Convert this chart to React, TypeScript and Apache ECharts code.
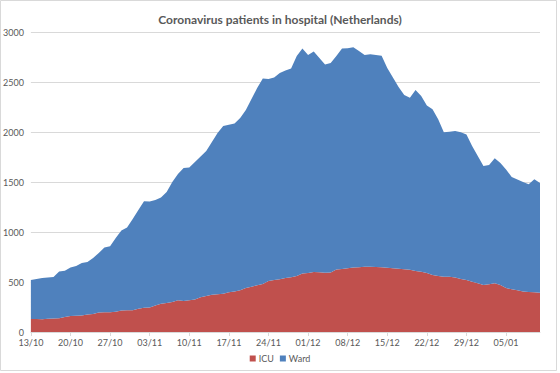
import React, { useEffect, useRef } from "react";
import * as echarts from "echarts";

const startDate = "2020-10-13";
const dayCount = 91;

const icu = [
  130, 130, 128, 132, 135, 138, 150, 160, 162, 165,
  175, 180, 195, 197, 198, 203, 215, 217, 218, 232,
  243, 245, 265, 283, 290, 300, 318, 310, 318, 325,
  348, 360, 372, 377, 382, 397, 405, 418, 440, 453,
  468, 480, 510, 520, 527, 540, 547, 560, 585, 590,
  600, 598, 593, 595, 625, 630, 637, 645, 648, 653,
  653, 650, 647, 643, 637, 633, 628, 622, 610, 603,
  590, 570, 560, 553, 553, 545, 530, 520, 503, 488,
  470, 478, 487, 470, 440, 427, 418, 405, 400, 397,
  393,
];

const ward = [
  390, 400, 412, 413, 415, 467, 463, 485, 498, 525,
  525, 560, 595, 648, 660, 737, 800, 828, 912, 988,
  1064, 1060, 1055, 1062, 1110, 1200, 1262, 1330, 1327, 1375,
  1407, 1450, 1528, 1613, 1678, 1676, 1680, 1722, 1780, 1877,
  1972, 2055, 2020, 2025, 2063, 2075, 2088, 2200, 2250, 2180,
  2205, 2142, 2082, 2095, 2135, 2205, 2200, 2202, 2162, 2117,
  2125, 2120, 2116, 1997, 1908, 1817, 1742, 1721, 1810, 1757,
  1675, 1657, 1567, 1444, 1450, 1465, 1467, 1455, 1357, 1272,
  1190, 1192, 1250, 1220, 1185, 1123, 1107, 1095, 1078, 1130,
  1097,
];

const yTicks = { min: 0, max: 3000, interval: 500 };

function buildCategories(): string[] {
  const out: string[] = [];
  const d0 = new Date(startDate + "T12:00:00Z");
  for (let i = 0; i < dayCount; i++) {
    const d = new Date(d0.getTime() + i * 86400000);
    const dd = String(d.getUTCDate()).padStart(2, "0");
    const mm = String(d.getUTCMonth() + 1).padStart(2, "0");
    out.push(dd + "/" + mm);
  }
  return out;
}

const categories = buildCategories();

export default function App() {
  const ref = useRef<HTMLDivElement>(null);
  useEffect(() => {
    if (!ref.current) return;
    const chart = echarts.init(ref.current, undefined, { renderer: "svg" });
    const font = "Lato, 'Open Sans', sans-serif";
    chart.setOption({
      animation: false,
      backgroundColor: "#ffffff",
      textStyle: { fontFamily: font },
      title: {
        text: "Coronavirus patients in hospital (Netherlands)",
        left: "center",
        top: 8,
        textStyle: { fontSize: 12, fontWeight: "bold", color: "#595959", fontFamily: font },
      },
      legend: {
        data: ["ICU", "Ward"],
        bottom: 5,
        left: "center",
        icon: "rect",
        itemWidth: 6,
        itemHeight: 6,
        itemGap: 6,
        textStyle: { fontSize: 9, color: "#595959", padding: [0, 0, 0, -2] },
      },
      grid: { left: 29.6, right: 20, top: 32, bottom: 41, containLabel: false },
      xAxis: {
        type: "category",
        data: categories,
        boundaryGap: false,
        axisLine: { lineStyle: { color: "#d9d9d9" } },
        axisTick: { interval: 6, length: 4, lineStyle: { color: "#d9d9d9" } },
        axisLabel: { interval: 6, fontSize: 9, color: "#595959", margin: 6 },
        splitLine: { show: false },
      },
      yAxis: {
        type: "value",
        min: yTicks.min,
        max: yTicks.max,
        interval: yTicks.interval,
        axisLine: { show: false },
        axisTick: { show: false },
        axisLabel: {
          fontSize: 9,
          color: "#595959",
          margin: 7,
          formatter: (v: number) => String(v),
        },
        splitLine: { lineStyle: { color: "#d9d9d9", width: 1 } },
      },
      series: [
        {
          name: "ICU",
          type: "line",
          stack: "total",
          data: icu,
          symbol: "none",
          lineStyle: { width: 0 },
          areaStyle: { color: "#c0504d", opacity: 1 },
          itemStyle: { color: "#c0504d" },
        },
        {
          name: "Ward",
          type: "line",
          stack: "total",
          data: ward,
          symbol: "none",
          lineStyle: { width: 0 },
          areaStyle: { color: "#4f81bd", opacity: 1 },
          itemStyle: { color: "#4f81bd" },
        },
      ],
      graphic: [
        {
          type: "rect",
          shape: { x: 0.5, y: 0.5, width: 556, height: 370 },
          style: { fill: "none", stroke: "#d9d9d9", lineWidth: 1 },
          silent: true,
        },
      ],
    });
    return () => chart.dispose();
  }, []);
  return (
    <div
      ref={ref}
      style={{ position: "fixed", left: 0, top: 0, width: 560, height: 373 }}
    />
  );
}
